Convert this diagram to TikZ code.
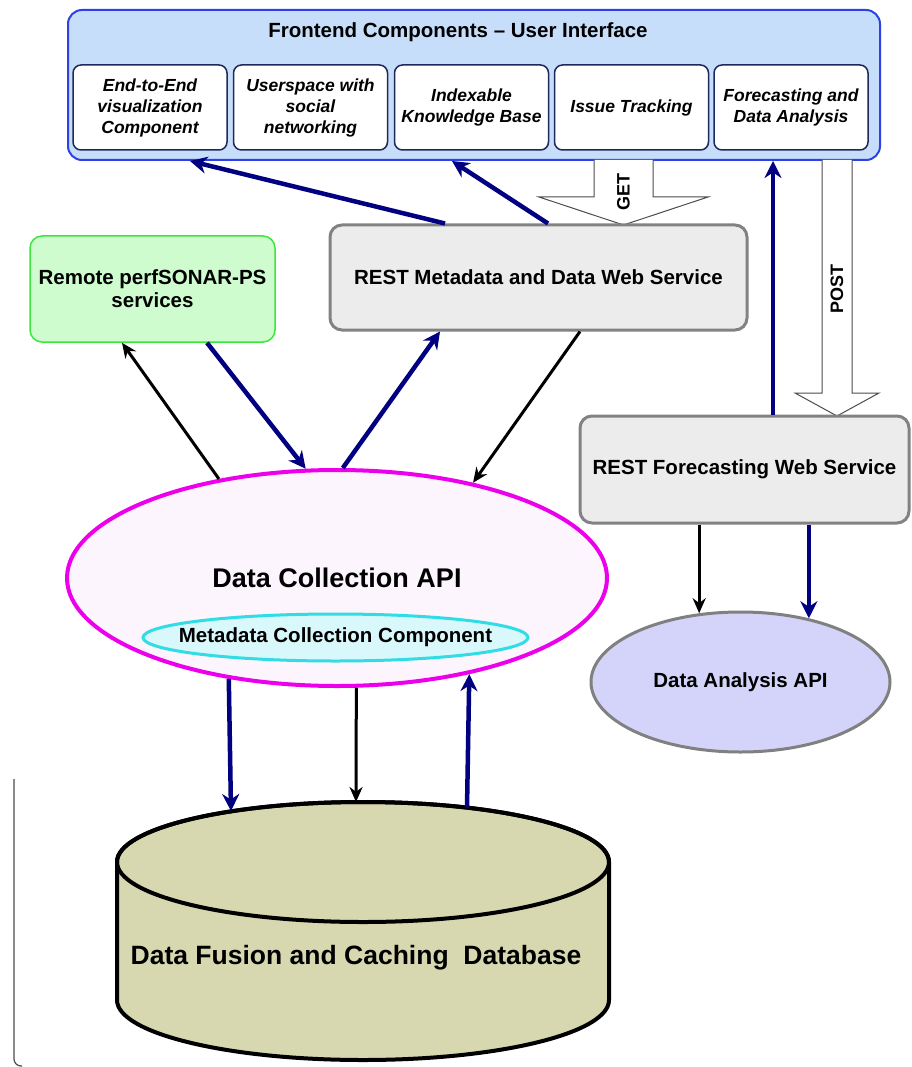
\documentclass[tikz,border=0pt]{standalone}
\usepackage{fontspec}
\setmainfont{Liberation Sans}
\usetikzlibrary{arrows.meta,shapes.geometric}

\definecolor{fefill}{RGB}{198,222,250}
\definecolor{feline}{RGB}{45,65,230}
\definecolor{uiline}{RGB}{30,40,90}
\definecolor{svcfill}{RGB}{236,236,236}
\definecolor{svcline}{RGB}{130,130,130}
\definecolor{rpsfill}{RGB}{206,252,206}
\definecolor{rpsline}{RGB}{60,230,60}
\definecolor{dcafill}{RGB}{253,245,253}
\definecolor{dcaline}{RGB}{236,0,236}
\definecolor{mccfill}{RGB}{216,248,252}
\definecolor{mccline}{RGB}{50,220,228}
\definecolor{daafill}{RGB}{212,212,250}
\definecolor{daaline}{RGB}{128,128,128}
\definecolor{dbfill}{RGB}{216,216,176}
\definecolor{navy}{RGB}{0,0,128}

\newcommand{\svcfont}{\fontsize{20.5}{23}\selectfont\bfseries}

\tikzset{
  uibox/.style={draw=uiline, fill=white, line width=1.5pt, rounded corners=8pt,
    minimum width=154pt, minimum height=85pt, inner sep=1pt, align=center,
    font=\fontsize{17.5}{21}\selectfont\bfseries\itshape},
  svcbox/.style={draw=svcline, fill=svcfill, line width=3pt, rounded corners=12pt,
    align=center, font=\svcfont},
  navyarrow/.style={draw=navy, line width=4.5pt, -{Stealth[length=17pt,width=17pt]}},
  blackarrow/.style={draw=black, line width=3pt, -{Stealth[length=15pt,width=13pt]}},
  hollow/.style={draw=black!70, fill=white, line width=1pt},
}

\begin{document}
\begin{tikzpicture}[x=1pt,y=-1pt]
  \useasboundingbox (0,0) rectangle (911,1067);

  % frontend
  \node[draw=feline, fill=fefill, line width=2pt, rounded corners=14pt,
    minimum width=812pt, minimum height=150pt] (fe) at (474,85) {};
  \node[font=\svcfont] (fetitle) at (458,32) {Frontend Components – User Interface};
  \node[uibox] (viz) at (150,107.5) {End-to-End\\visualization\\Component};
  \node[uibox] (social) at (310.5,107.5) {Userspace with\\social\\networking};
  \node[uibox] (kbase) at (471.5,107.5) {Indexable\\Knowledge Base};
  \node[uibox] (issue) at (631.5,107.5) {Issue Tracking};
  \node[uibox] (fcast) at (791,107.5) {Forecasting and\\Data Analysis};

  % GET and POST
  \draw[hollow] (594,160) -- (594,197) -- (539,197) -- (623.5,225)
    -- (708,197) -- (653,197) -- (653,160);
  \node[rotate=90, font=\fontsize{18}{20}\selectfont\bfseries] (get) at (623.5,192) {GET};
  \draw[hollow] (822,160) -- (822,393) -- (795,393) -- (837,416)
    -- (879,393) -- (852,393) -- (852,160);
  \node[rotate=90, font=\fontsize{18}{20}\selectfont\bfseries] (post) at (837,289) {POST};

  % services
  \node[svcbox, minimum width=417pt, minimum height=105pt] (rmd) at (538.5,277.5)
    {REST Metadata and Data Web Service};
  \node[svcbox, minimum width=329pt, minimum height=107pt] (rfw) at (744.5,469.5)
    {REST Forecasting Web Service};
  \node[draw=rpsline, fill=rpsfill, line width=1.5pt, rounded corners=12pt,
    minimum width=245pt, minimum height=106pt, align=center, font=\svcfont]
    (rps) at (152.5,289) {Remote perfSONAR-PS\\services};

  % APIs
  \node[ellipse, draw=dcaline, fill=dcafill, line width=4pt, inner sep=0pt,
    minimum width=540pt, minimum height=216pt] (dca) at (337,578) {};
  \node[font=\fontsize{27}{32}\selectfont\bfseries] (dcatext) at (337,578) {Data Collection API};
  \node[ellipse, draw=mccline, fill=mccfill, line width=3pt, inner sep=0pt,
    minimum width=385pt, minimum height=47pt] (mcc) at (335.5,637.5) {};
  \node[font=\svcfont] (mcctext) at (335.5,637.5) {Metadata Collection Component};
  \node[ellipse, draw=daaline, fill=daafill, line width=3pt, inner sep=0pt,
    minimum width=299pt, minimum height=140pt, font=\svcfont] (daa) at (740.5,682)
    {Data Analysis API};

  % database
  \filldraw[fill=dbfill, draw=black, line width=4pt]
    (117,862) -- (117,1000) arc (180:0:246 and 60) -- (609,862)
    arc (0:-180:246 and 60) -- cycle;
  \draw[line width=4pt] (363,862) ellipse (246 and 60);
  \node[font=\fontsize{26.5}{30}\selectfont\bfseries] (db) at (356,958)
    {Data Fusion and Caching\ \ Database};
  \coordinate (dbin1) at (231,811);
  \coordinate (dbin2) at (356,802);
  \coordinate (dbout) at (467,808);

  \draw[black!70, line width=1.2pt, rounded corners=7pt] (14,779) -- (14,1066) -- (22,1066);

  % connectors
  \draw[navyarrow] ([xshift=-93.5pt]rmd.north) -- ([xshift=-284pt]fe.south);
  \draw[navyarrow] ([xshift=9.5pt]rmd.north) -- ([xshift=-22pt]fe.south);
  \draw[navyarrow] ([xshift=28.5pt]rfw.north) -- ([xshift=299pt]fe.south);
  \draw[blackarrow] (dca.140.8) -- ([xshift=-30.5pt]rps.south);
  \draw[navyarrow] ([xshift=54.5pt]rps.south) -- (dca.106.6);
  \draw[navyarrow] (dca.87.3) -- ([xshift=-98.5pt]rmd.south);
  \draw[blackarrow] ([xshift=41.5pt]rmd.south) -- (dca.35.2);
  \draw[blackarrow] (daa.121 |- rfw.south) -- (daa.121);
  \draw[navyarrow] (daa.43.8 |- rfw.south) -- (daa.43.8);
  \draw[navyarrow] (dca.223.1) -- (dbin1);
  \draw[blackarrow] (dca.280) -- (dbin2);
  \draw[navyarrow] (dbout) -- (dca.324);
\end{tikzpicture}
\end{document}
